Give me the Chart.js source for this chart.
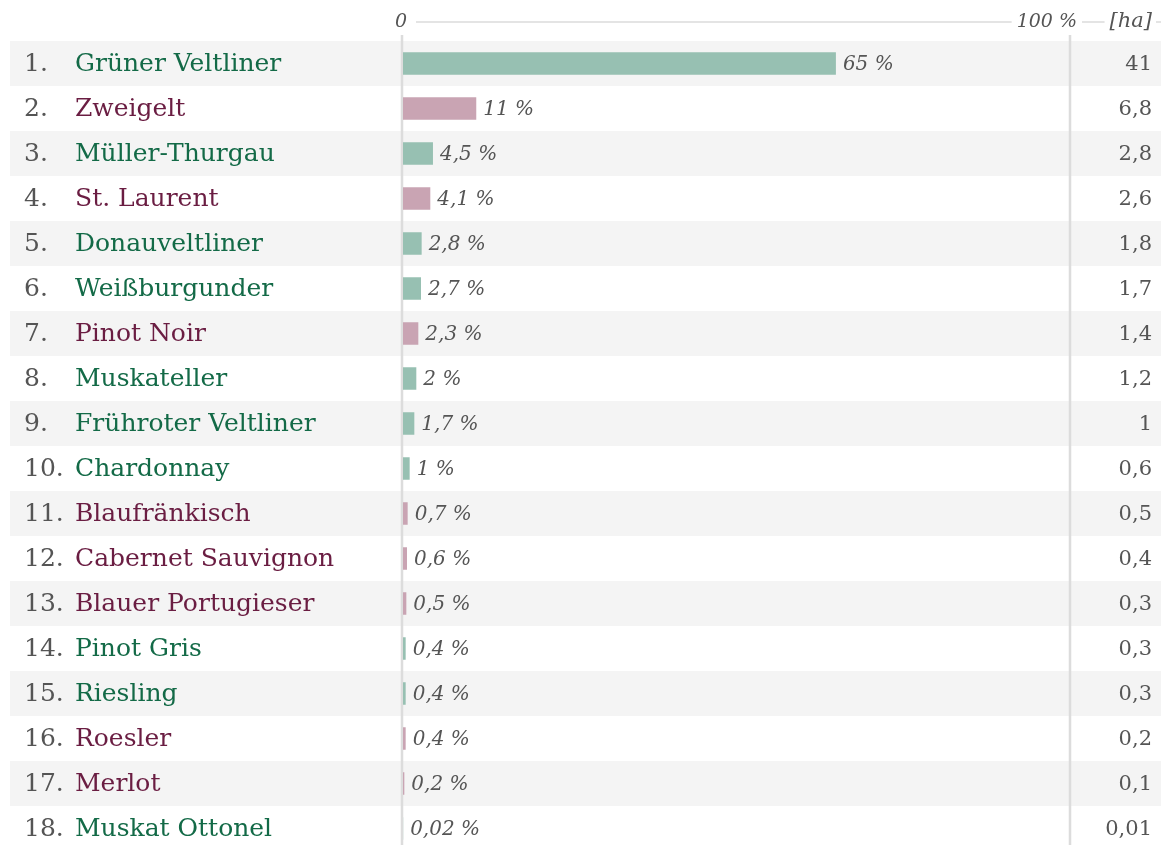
<!DOCTYPE html>
<html>
<head>
<meta charset="utf-8">
<script src="https://cdn.jsdelivr.net/npm/chart.js@4"></script>
<style>
  html, body { margin: 0; padding: 0; background: #fff; overflow: hidden; }
  #wrap { width: 1161px; height: 851px; }
</style>
</head>
<body>
<div id="wrap"><canvas id="grapes"></canvas></div>
<script>
// Rebsorten, Anteil an der Fläche [%] und Fläche [ha]
const varieties = ['Grüner Veltliner', 'Zweigelt', 'Müller-Thurgau', 'St. Laurent', 'Donauveltliner',
    'Weißburgunder', 'Pinot Noir', 'Muskateller', 'Frühroter Veltliner', 'Chardonnay', 'Blaufränkisch',
    'Cabernet Sauvignon', 'Blauer Portugieser', 'Pinot Gris', 'Riesling', 'Roesler', 'Merlot', 'Muskat Ottonel'];
const shares = [65, 11, 4.5, 4.1, 2.8, 2.7, 2.3, 2, 1.7, 1, 0.7, 0.6, 0.5, 0.4, 0.4, 0.4, 0.2, 0.02];
const hectares = [41, 6.8, 2.8, 2.6, 1.8, 1.7, 1.4, 1.2, 1, 0.6, 0.5, 0.4, 0.3, 0.3, 0.3, 0.2, 0.1, 0.01];
const wineType = ['w', 'r', 'w', 'r', 'w', 'w', 'r', 'w', 'w', 'w', 'r', 'r', 'r', 'w', 'w', 'r', 'r', 'w'];
const axisTicks = [0, 100];

const textColor = { w: '#136a47', r: '#6a1d42' };
const barColor = { w: '#97c0b2', r: '#c9a4b3' };
const grey = '#555';
const lineGrey = '#dcdcdc';
const serif = '"DejaVu Serif", "Liberation Serif", serif';

const fmt = v => String(v).replace('.', ',');

const tablePlugin = {
    id: 'table',
    beforeDatasetsDraw(chart) {
        const { ctx, scales: { x, y } } = chart;
        const x0 = x.getPixelForValue(axisTicks[0]);
        const x1 = x.getPixelForValue(axisTicks[1]);
        const half = (y.getPixelForValue(1) - y.getPixelForValue(0)) / 2;
        ctx.save();
        // row bands
        ctx.fillStyle = '#f4f4f4';
        varieties.forEach((v, i) => {
            if (i % 2 === 0) {
                const c = y.getPixelForValue(i);
                ctx.fillRect(10, c - half, chart.width - 10, half * 2);
            }
        });
        // vertical lines
        ctx.strokeStyle = lineGrey;
        ctx.lineWidth = 2.5;
        [x0 - 1, x1 + 1].forEach(px => {
            ctx.beginPath();
            ctx.moveTo(px, 35);
            ctx.lineTo(px, chart.height);
            ctx.stroke();
        });
        // top axis
        ctx.font = 'italic 19px ' + serif;
        ctx.fillStyle = grey;
        ctx.textBaseline = 'middle';
        ctx.textAlign = 'center';
        ctx.fillText(String(axisTicks[0]), x0 - 2, 22);
        ctx.textAlign = 'right';
        const endLabel = axisTicks[1] + ' %';
        ctx.fillText(endLabel, x1 + 8, 22);
        const w100 = ctx.measureText(endLabel).width;
        ctx.font = 'italic 21px ' + serif;
        ctx.fillText('[ha]', 1152, 22);
        const wha = ctx.measureText('[ha]').width;
        ctx.lineWidth = 1.5;
        ctx.beginPath();
        ctx.moveTo(x0 + 13, 22); ctx.lineTo(x1 + 8 - w100 - 5, 22);
        ctx.moveTo(x1 + 13, 22); ctx.lineTo(1152 - wha - 5, 22);
        ctx.moveTo(1156, 22); ctx.lineTo(chart.width, 22);
        ctx.stroke();
        ctx.restore();
    },
    afterDatasetsDraw(chart) {
        const { ctx, scales: { x, y } } = chart;
        ctx.save();
        ctx.textBaseline = 'middle';
        varieties.forEach((name, i) => {
            const cy = y.getPixelForValue(i) + 1;
            ctx.textAlign = 'left';
            ctx.font = '25px ' + serif;
            ctx.fillStyle = grey;
            ctx.fillText((i + 1) + '.', 24, cy);
            ctx.fillStyle = textColor[wineType[i]];
            ctx.fillText(name, 75, cy);
            // percent label
            ctx.font = 'italic 20px ' + serif;
            ctx.fillStyle = grey;
            ctx.fillText(fmt(shares[i]) + ' %', x.getPixelForValue(shares[i]) + 7, cy);
            // hectares
            ctx.textAlign = 'right';
            ctx.font = '21px ' + serif;
            ctx.fillText(fmt(hectares[i]), 1152, cy);
        });
        ctx.restore();
    }
};

new Chart(document.getElementById('grapes'), {
    type: 'bar',
    data: {
        labels: varieties,
        datasets: [{
            data: shares,
            backgroundColor: wineType.map(t => barColor[t]),
            barPercentage: 0.5,
            categoryPercentage: 1
        }]
    },
    options: {
        indexAxis: 'y',
        responsive: true,
        maintainAspectRatio: false,
        animation: false,
        events: [],
        layout: { padding: { left: 403, right: 92, top: 41, bottom: 0 } },
        plugins: { legend: { display: false }, tooltip: { enabled: false } },
        scales: {
            x: { min: axisTicks[0], max: axisTicks[1], display: false },
            y: { display: false }
        }
    },
    plugins: [tablePlugin]
});
</script>
</body>
</html>
